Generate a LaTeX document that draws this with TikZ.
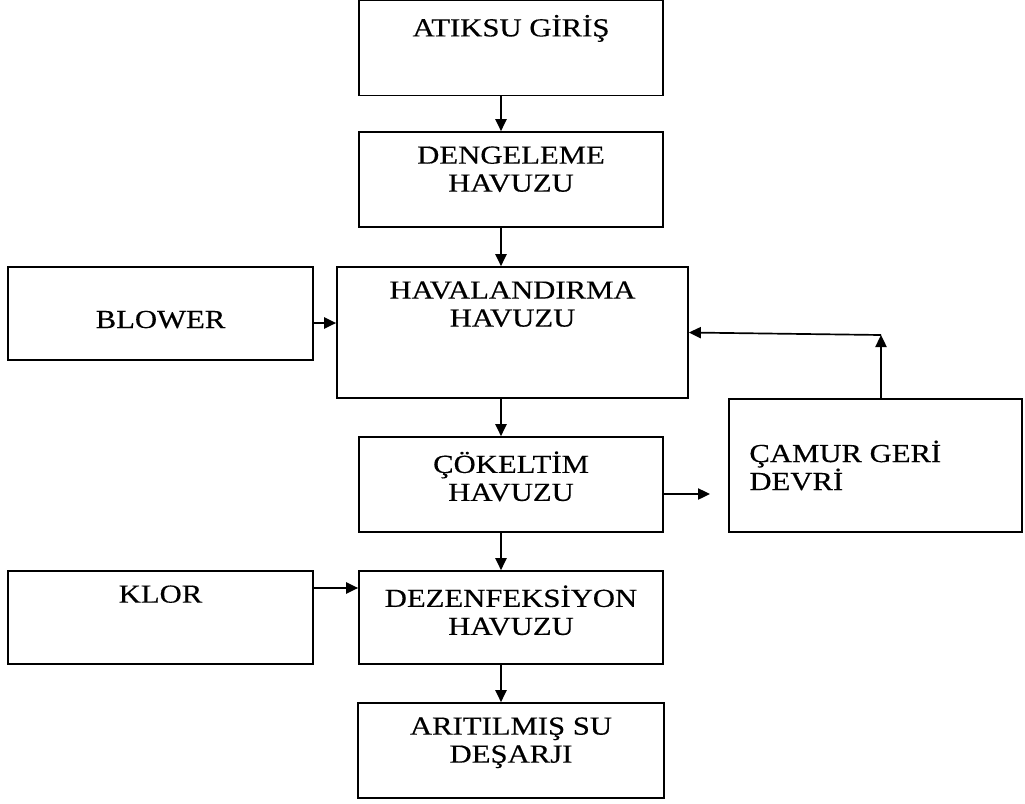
\documentclass[tikz,border=0pt]{standalone}
\usepackage{fontspec}
\newfontfamily\kutufont{Liberation Serif}[FakeStretch=1.18,FakeBold=0.4]
\usetikzlibrary{arrows.meta}

\begin{document}
\begin{tikzpicture}[x=0.025cm,y=-0.025cm,
  kutu/.style={draw,line width=1.2pt,minimum width=7.6cm,minimum height=2.375cm,inner sep=0pt},
  yazi/.style={font={\kutufont\fontsize{18.5}{19.9}\selectfont},align=center,inner sep=0pt},
  ok/.style={line width=1.2pt,-{Triangle[length=0.3cm,width=0.28cm]}}]
\useasboundingbox (0,0) rectangle (1025,803);
% kutular
\node[kutu] (atiksu) at (511,48) {};
\node[kutu] (dengeleme) at (511,179.5) {};
\node[kutu,minimum width=8.775cm,minimum height=3.275cm] (havalandirma) at (512.5,332.5) {};
\node[kutu,minimum width=7.625cm,minimum height=2.325cm] (blower) at (160.5,313.5) {};
\node[kutu] (cokeltim) at (511,484.5) {};
\node[kutu,minimum width=7.325cm,minimum height=3.325cm] (camur) at (875.5,465.5) {};
\node[kutu,minimum width=7.625cm,minimum height=2.325cm] (klor) at (160.5,617.5) {};
\node[kutu,minimum height=2.325cm] (dezenfeksiyon) at (511,617.5) {};
\node[kutu,minimum width=7.65cm] (aritilmis) at (511,750.5) {};
% yazilar
\node[yazi,anchor=north] (atiksu-y) at ([yshift=-0.375cm]atiksu.north) {ATIKSU GİRİŞ};
\node[yazi,anchor=north] (dengeleme-y) at ([yshift=-0.375cm]dengeleme.north) {DENGELEME\\HAVUZU};
\node[yazi,anchor=north] (havalandirma-y) at ([yshift=-0.375cm]havalandirma.north) {HAVALANDIRMA\\HAVUZU};
\node[yazi,anchor=base] (blower-y) at ([yshift=-0.3625cm]blower.center) {BLOWER};
\node[yazi,anchor=north] (cokeltim-y) at ([yshift=-0.375cm]cokeltim.north) {ÇÖKELTİM\\HAVUZU};
\node[yazi,align=left,anchor=west] (camur-y) at ([xshift=0.525cm]camur.west) {ÇAMUR GERİ\\DEVRİ};
\node[yazi,anchor=north] (klor-y) at ([yshift=-0.375cm]klor.north) {KLOR};
\node[yazi,anchor=north] (dezenfeksiyon-y) at ([yshift=-0.375cm]dezenfeksiyon.north) {DEZENFEKSİYON\\HAVUZU};
\node[yazi,anchor=north] (aritilmis-y) at ([yshift=-0.375cm]aritilmis.north) {ARITILMIŞ SU\\DEŞARJI};
% oklar
\draw[ok] ([xshift=-0.25cm]atiksu.south) -- ([xshift=-0.25cm]atiksu.south |- dengeleme.north);
\draw[ok] ([xshift=-0.25cm]dengeleme.south) -- ([xshift=-0.25cm]dengeleme.south |- havalandirma.north);
\draw[ok] ([xshift=-0.25cm]cokeltim.north |- havalandirma.south) -- ([xshift=-0.25cm]cokeltim.north);
\draw[ok] ([xshift=-0.25cm]cokeltim.south) -- ([xshift=-0.25cm]cokeltim.south |- dezenfeksiyon.north);
\draw[ok] ([xshift=-0.25cm]dezenfeksiyon.south) -- ([xshift=-0.25cm]dezenfeksiyon.south |- aritilmis.north);
\draw[ok] ([yshift=-0.2375cm]blower.east) -- ([yshift=-0.2375cm]blower.east -| havalandirma.west);
\draw[ok] ([yshift=0.7375cm]klor.east) -- ([yshift=0.7375cm]klor.east -| dezenfeksiyon.west);
\coordinate (camur-giris) at (710,494);
\draw[ok] (cokeltim.east |- camur-giris) -- (camur-giris);
\coordinate (donus) at (881,335);
\draw[ok] (donus |- camur.north) -- (donus);
\draw[ok] (donus) -- (havalandirma.east);
\end{tikzpicture}
\end{document}
